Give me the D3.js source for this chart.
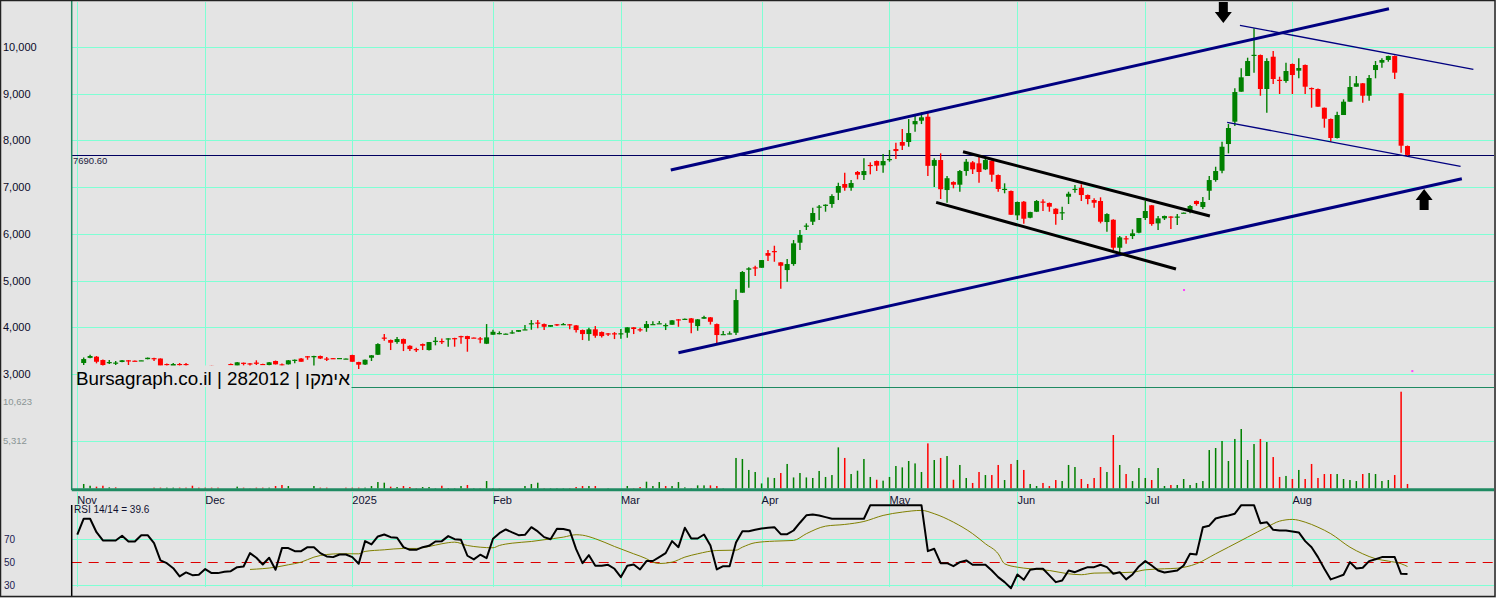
<!DOCTYPE html>
<html>
<head>
<meta charset="utf-8">
<script src="https://cdn.jsdelivr.net/npm/d3@7"></script>
<style>
  body { margin: 0; background: #e4e4e4; }
  svg { display: block; font-family: "Liberation Sans", Arial, sans-serif; }
</style>
</head>
<body>
<svg id="chart" width="1496" height="598"></svg>
<script>
// daily candles, index 0 = first bar on the chart
var open = [
 3235,3345,3370,3299,3245,3224,3257,3293,3285,3288,
 3318,3340,3331,3214,3171,3214,3214,3149,3120,3110,
 3175,3090,3075,3214,3177,3241,3228,3245,3214,3192,
 3278,3207,3207,3299,3331,3380,3358,3385,3331,3340,
 3338,3323,3406,3256,3203,3348,3412,3780,3727,3684,
 3748,3604,3534,3641,3513,3699,3706,3754,3769,3812,
 3812,3780,3763,3648,3840,3872,3860,3885,3904,3952,
 4081,4101,4069,4011,4065,4063,4065,4041,3941,3855,
 3956,3898,3870,3872,3868,3883,3999,3958,3984,4065,
 4081,4041,4054,4170,4178,4191,4026,4183,4213,4069,
 3849,3864,3883,4740,5232,5283,5274,5589,5632,5390,
 5225,5354,5810,6168,6260,6574,6617,6639,6880,7067,
 6987,7324,7259,7475,7559,7467,7595,7816,7966,7966,
 8345,8422,8508,7456,7580,6938,7109,7052,7345,7531,
 7510,7381,7565,7259,6953,6917,6396,6688,6345,6474,
 6692,6660,6538,6457,6795,6956,6987,6831,6724,6703,
 6253,6302,5703,5906,5953,6024,6339,6611,6225,6332,
 6371,6364,6450,6482,6703,6574,6923,7152,7351,7923,
 8401,9043,9379,9824,9828,9101,9792,9298,9272,9636,
 9493,9615,9122,9101,8700,8459,8052,8544,8829,9150,
 9223,8957,9507,9664,9722,9807,9009,7880
];
var high = [
 3353,3410,3385,3310,3299,3278,3299,3299,3290,3293,
 3353,3348,3335,3224,3235,3235,3235,3160,3140,3130,
 3180,3110,3150,3224,3256,3245,3235,3293,3218,3256,
 3288,3224,3299,3310,3340,3385,3391,3395,3363,3345,
 3342,3331,3410,3262,3310,3406,3656,3855,3737,3791,
 3759,3614,3562,3652,3684,3791,3759,3763,3776,3818,
 3818,3784,3791,4069,3947,3913,3866,3934,3941,4048,
 4155,4155,4080,4048,4069,4091,4069,4048,3952,3990,
 4026,3909,3877,3898,3963,3999,4005,3990,4134,4127,
 4134,4084,4155,4176,4187,4198,4176,4247,4219,4080,
 3919,3913,4812,5204,5283,5317,5439,5653,5746,5397,
 5461,5868,6082,6225,6559,6617,6632,6846,7094,7308,
 7152,7345,7617,7531,7570,7709,7795,7951,8244,8458,
 8529,8602,8602,7617,7724,7238,7125,7366,7602,7559,
 7688,7617,7574,7270,7082,6928,6692,6703,6474,6724,
 6739,6671,6549,6581,6902,7045,7061,6842,6760,6782,
 6439,6313,5953,5953,6097,6339,6703,6617,6382,6392,
 6375,6424,6457,6617,6714,6788,7238,7437,7972,8351,
 9116,9544,9771,10400,9839,9758,9914,9364,9664,9647,
 9758,9626,9133,9111,8704,8469,8615,8880,9379,9379,
 9229,9400,9700,9758,9814,9818,9015,7891
];
var low = [
 3192,3338,3228,3171,3214,3192,3252,3192,3278,3288,
 3314,3278,3171,3171,3160,3149,3149,3085,3090,3080,
 3075,3060,3070,3192,3171,3177,3171,3192,3203,3181,
 3203,3171,3203,3228,3262,3305,3134,3320,3278,3320,
 3336,3320,3262,3107,3192,3278,3406,3712,3513,3648,
 3491,3491,3470,3513,3502,3614,3641,3584,3584,3648,
 3477,3769,3656,3641,3840,3849,3855,3862,3902,3947,
 3947,3977,3941,4009,4026,4048,3956,3891,3727,3712,
 3776,3784,3812,3748,3754,3776,3855,3904,3904,4063,
 4079,3941,4052,4011,4176,3870,3926,4183,4058,3635,
 3844,3849,3834,4740,4846,5097,5274,5418,5403,4825,
 4975,5317,5653,6082,6189,6296,6474,6560,6724,6923,
 6923,7167,7152,7274,7345,7308,7544,7602,7795,7865,
 8186,8351,7238,7002,6746,6666,6975,6902,7244,7281,
 7094,7366,7116,6902,6868,6403,6296,6217,6332,6467,
 6489,6474,6195,6296,6639,6880,6703,6632,6560,6225,
 6046,5654,5583,5788,5889,6011,6296,6174,6082,6296,
 6103,6189,6446,6440,6603,6532,6724,7116,7296,7724,
 8308,9043,9379,9450,8957,8593,9208,8994,9236,8994,
 9330,8994,8700,8722,8272,7972,8041,8544,8829,9150,
 8807,8850,9330,9557,9685,9315,7737,7651
];
var close = [
 3320,3385,3262,3192,3256,3245,3293,3282,3278,3293,
 3348,3331,3177,3203,3214,3203,3200,3120,3100,3090,
 3080,3070,3140,3207,3250,3235,3220,3218,3207,3250,
 3207,3201,3293,3305,3262,3374,3385,3331,3320,3334,
 3342,3331,3262,3199,3305,3400,3641,3770,3669,3748,
 3648,3534,3523,3605,3684,3712,3695,3763,3763,3806,
 3748,3774,3757,3784,3904,3877,3864,3892,3941,3956,
 4087,4093,4011,4048,4058,4069,4058,3941,3855,3956,
 3819,3812,3864,3864,3872,3999,3963,3952,4069,4069,
 4087,4048,4149,4161,4182,4097,4170,4219,4118,3834,
 3855,3870,4583,5183,5262,5274,5439,5532,5626,5317,
 5354,5797,5975,6178,6446,6585,6624,6810,7024,6987,
 7088,7266,7345,7465,7460,7559,7602,7773,7887,8158,
 8415,8495,7456,7580,6955,7191,7052,7345,7544,7381,
 7324,7580,7266,6960,6964,6409,6682,6324,6467,6703,
 6685,6581,6424,6463,6859,6964,6831,6746,6666,6260,
 6424,5703,5925,5898,6011,6339,6489,6210,6332,6382,
 6364,6371,6454,6596,6639,6682,7152,7345,7865,8266,
 9036,9351,9700,9833,9101,9700,9315,9289,9486,9400,
 9550,9150,9111,8722,8465,8052,8544,8829,9143,9223,
 8957,9336,9614,9722,9807,9450,7887,7690.6
];
var volume = [
 620,430,330,430,250,250,0,0,0,0,
 0,220,220,220,220,220,220,430,220,220,
 220,220,0,0,330,220,160,220,220,220,
 400,510,400,0,0,0,400,220,220,0,
 0,220,220,220,220,400,830,760,330,290,
 400,290,180,290,290,180,430,180,180,400,
 510,180,180,940,180,180,0,0,0,400,
 620,760,180,180,180,180,180,290,400,400,
 400,0,180,0,0,400,180,290,870,400,
 830,400,400,830,250,180,470,470,470,400,
 180,0,3440,3330,2140,1920,680,1330,1270,1810,
 2790,1330,1810,1330,1270,2030,1380,1590,4590,3440,
 1700,2060,3330,1380,1080,980,1380,2570,2420,3110,
 2850,1920,5020,3220,3440,3650,1080,2680,1270,730,
 1920,1590,1590,2680,1050,2790,3220,2140,620,400,
 730,400,1050,940,2680,2460,1160,620,1270,2460,
 1920,5930,2680,1700,940,2350,1270,1050,2350,400,
 510,510,1160,510,730,940,4300,4520,5280,3110,
 5500,6580,3220,4950,5500,5170,3540,1380,1490,1160,
 2140,1160,2790,1270,1700,1700,1700,1160,1050,940,
 1700,1810,1700,940,1050,1590,10623,620
];

// RSI 14, first value sits one bar before the first candle
var rsiFirst = -1;
var rsi = [
 74.2,88,88,76.2,69,69,69,73.1,68.1,68.1,
 73.6,73.6,66.6,51.5,49.1,44.7,37.5,41,38.6,38.9,
 43.9,40.4,40.4,41.6,42.1,45.6,46.2,57.9,53.8,48,
 53.8,43.3,62.3,62.3,59.6,59.6,63.1,63.1,57.9,55,
 54.4,56.7,56.7,54.4,48.6,68.4,65.5,72.5,74.2,71.9,
 71.4,63.1,60.8,60.8,63.1,64.3,68.1,68.4,72.8,70.1,
 69.6,55.6,52.4,56.5,53.5,70.5,75.4,78.6,76,73.6,
 73.9,80.6,76.9,71.9,70.1,79.2,79,77.7,61.4,49.1,
 56.1,46.8,46.8,47.7,44.2,36.9,46.8,48,43.6,50.9,
 51,54.4,57.9,68.4,63.1,80.1,70.7,70.7,74.2,64.6,
 43.6,46.5,46.5,67.2,77.1,77.1,78.3,79.5,80.1,80.6,
 74.5,74.5,77.7,84.5,91,91.7,90.9,89.4,88,88,
 88,88,88,88,99.9,99.9,99.9,99.9,99.9,99.9,
 99.9,99.9,99.9,59.6,61.7,49.1,49.1,46.5,50,51.5,
 47.7,47.7,47.7,42.7,36.9,32.5,27.2,39.2,34.6,43.3,
 44.2,44.2,38.4,32.5,34,42.7,41.2,43.6,45.6,45.6,
 47.7,45.6,39.8,41.2,34.9,39.2,46.2,50.9,47.1,42.7,
 41,41.9,42.7,47.1,57.3,56.7,80.6,81.9,88.2,89.7,
 90.9,92.4,99.9,99.9,99.9,84.1,85,78.3,77.7,77.7,
 76.9,76,68.4,63.1,54.4,44.2,34.9,36.9,39,50,
 44.5,45.1,50.9,52.6,54.4,54.4,54.4,39.8,39.6
];
// RSI signal (olive), read at these bars
var sigIdx = [26,30,32,34,36,38,40,43,44,47,50,52,54,56,58,60,62,64,65,67,70,72,75,77,78,80,83,86,88,89,90,92,94,96,99,102,103,105,108,111,113,116,119,122,125,128,131,133,136,139,141,143,144,146,148,151,154,156,158,161,164,166,169,171,174,177,179,182,185,187,189,191,193,195,198,200,202,204,206,207];
var sigVal = [43.6,45.6,47.7,50,54.4,56.7,57.3,57.3,59.4,60.8,62,62,63.7,66.1,67.5,64.6,63.1,62.6,64.6,66.6,68.1,69.6,71.9,74,73.6,70.5,63.7,57.3,53,50,48.8,50,54.4,57.3,60.2,60.5,63.1,67,68.4,69,74.9,81.5,83,85.6,90.9,93.8,95.3,92.4,85,74.9,66.1,57.3,48.6,45.6,44.2,42.7,39.8,39,40.4,40.7,41.2,43.3,44.2,44.7,48.6,57.3,63.1,71.9,80.6,85.9,87.4,85,80.6,74.9,63.1,57.3,53,50.9,48.6,46.2];

var monthLabels = ['Nov','Dec','2025','Feb','Mar','Apr','May','Jun','Jul','Aug'];
var monthIdx = [-1,19,42,64,84,106,126,146,166,189];
var priceTicks = [3000,4000,5000,6000,7000,8000,9000,10000];
var volTicks = [10623,5312];
var rsiTicks = [70,50,30];
var lastClose = 7690.60;

// drawn lines: [bar, price] pairs
var trendStart = [[91.8,7366],[93,3455],[180.8,10464],[178.8,8388],[137.5,7758],[133.3,6675]];
var trendEnd   = [[204.1,10820],[215.5,7180],[217.3,9522],[215.3,7446],[176.1,6381],[170.8,5247]];
var arrowDown = [178.2,10514];
var arrowUp = [209.6,6960];
var pinkMarks = [[171.9,4819],[207.6,3084]];

var svg = d3.select('#chart');
var W = 1496, H = 598;
var left = 71.7, right = 1494;
var grid = '#7fffd4', frame = '#1f8a62';
var px = v => Math.round(v) + 0.5;   // keep 1px lines sharp

var x = d3.scaleLinear().domain([0, 207]).range([83.7, 1407.5]);
var y = d3.scaleLinear().domain([3000, 10000]).range([374, 47]);
var yv = d3.scaleLinear().domain([0, 10623]).range([489.7, 391.7]);
var yr = d3.scaleLinear().domain([30, 70]).range([585, 539.3]);

svg.append('rect').attr('width', W).attr('height', H).attr('fill', '#e4e4e4');

// grid
var g = svg.append('g');
g.selectAll('.hp').data(priceTicks).enter().append('line')
  .attr('x1', left).attr('x2', right).attr('y1', d => px(y(d))).attr('y2', d => px(y(d)))
  .attr('stroke', grid).attr('stroke-width', 1);
g.append('line').attr('x1', left).attr('x2', right).attr('y1', px(yv(5312))).attr('y2', px(yv(5312)))
  .attr('stroke', grid);
g.selectAll('.vm').data(monthIdx).enter().append('line')
  .attr('x1', d => px(x(d))).attr('x2', d => px(x(d))).attr('y1', 2).attr('y2', 489)
  .attr('stroke', grid);
g.selectAll('.vr').data(monthIdx).enter().append('line')
  .attr('x1', d => px(x(d))).attr('x2', d => px(x(d))).attr('y1', 492).attr('y2', 587)
  .attr('stroke', grid);
[70, 30].forEach(function(v) {
  g.append('line').attr('x1', left).attr('x2', right).attr('y1', px(yr(v))).attr('y2', px(yr(v)))
    .attr('stroke', grid);
});
g.append('line').attr('x1', left).attr('x2', right).attr('y1', px(yr(50))).attr('y2', px(yr(50)))
  .attr('stroke', '#dd0000').attr('stroke-dasharray', '10,7');

// last close line
svg.append('line').attr('x1', left).attr('x2', right)
  .attr('y1', px(y(lastClose))).attr('y2', px(y(lastClose)))
  .attr('stroke', '#000060').attr('stroke-width', 1);
svg.append('text').attr('x', 73).attr('y', y(lastClose) + 9.5)
  .attr('font-size', 9.5).attr('fill', '#202040').text(d3.format('.2f')(lastClose));

// candles
var idx = d3.range(open.length);
var up = i => close[i] >= open[i];
var cg = svg.append('g');
cg.selectAll('.wick').data(idx).enter().append('line')
  .attr('x1', i => x(i)).attr('x2', i => x(i))
  .attr('y1', i => y(high[i])).attr('y2', i => y(low[i]))
  .attr('stroke', i => up(i) ? '#008000' : '#ff0000').attr('stroke-width', 1.4);
cg.selectAll('.body').data(idx).enter().append('rect')
  .attr('x', i => x(i) - 2.5).attr('width', 5)
  .attr('y', i => y(Math.max(open[i], close[i])))
  .attr('height', i => Math.max(1.2, Math.abs(y(open[i]) - y(close[i]))))
  .attr('fill', i => up(i) ? '#008000' : '#ff0000');

// volume, coloured by change from the previous close
svg.append('g').selectAll('rect').data(idx.filter(i => volume[i] > 0)).enter().append('rect')
  .attr('x', i => x(i) - 0.75).attr('width', 1.5)
  .attr('y', i => yv(volume[i])).attr('height', i => 488.5 - yv(volume[i]))
  .attr('fill', i => (i === 0 || close[i] >= close[i - 1]) ? '#008000' : '#ff0000');

// RSI
var rsiLine = d3.line().x(d => x(d[0])).y(d => yr(d[1]));
svg.append('path').datum(sigIdx.map((d, k) => [d, sigVal[k]]))
  .attr('d', d3.line().curve(d3.curveMonotoneX).x(d => x(d[0])).y(d => yr(d[1])))
  .attr('fill', 'none').attr('stroke', '#808000').attr('stroke-width', 1);
svg.append('path').datum(rsi.map((v, k) => [k + rsiFirst, v]))
  .attr('d', rsiLine).attr('fill', 'none').attr('stroke', '#000').attr('stroke-width', 2)
  .attr('stroke-linejoin', 'round');

// drawings
var tw = [3, 3, 1.3, 1.3, 3, 3];
var tc = ['#000080', '#000080', '#000080', '#000080', '#000', '#000'];
svg.append('g').selectAll('line').data(trendStart).enter().append('line')
  .attr('x1', d => x(d[0])).attr('y1', d => y(d[1]))
  .attr('x2', (d, k) => x(trendEnd[k][0])).attr('y2', (d, k) => y(trendEnd[k][1]))
  .attr('stroke', (d, k) => tc[k]).attr('stroke-width', (d, k) => tw[k]);

var ax = x(arrowDown[0]), ay = y(arrowDown[1]);
svg.append('path').attr('fill', '#000')
  .attr('d', 'M' + (ax - 4.5) + ',' + (ay - 21) + 'h9v10h4l-8.5,11l-8.5,-11h4z');
var bx = x(arrowUp[0]), by = y(arrowUp[1]);
svg.append('path').attr('fill', '#000')
  .attr('d', 'M' + bx + ',' + by + 'l8.5,11h-4v10h-9v-10h-4z');
svg.selectAll('.pink').data(pinkMarks).enter().append('rect')
  .attr('x', d => x(d[0])).attr('y', d => y(d[1])).attr('width', 2).attr('height', 2)
  .attr('fill', '#ff40ff');

// title box
svg.append('rect').attr('x', 78).attr('y', 365.5).attr('width', 273.5).attr('height', 21.5)
  .attr('fill', '#e4e4e4');
svg.append('text').attr('x', 76).attr('y', 385).attr('font-size', 18.8).attr('fill', '#000')
  .text('Bursagraph.co.il | 282012 | אימקו');

// frame
svg.append('line').attr('x1', left).attr('x2', left).attr('y1', 0).attr('y2', 490)
  .attr('stroke', frame).attr('stroke-width', 1.5);
svg.append('line').attr('x1', 351.5).attr('x2', right).attr('y1', 387.5).attr('y2', 387.5)
  .attr('stroke', frame).attr('stroke-width', 1);
svg.append('line').attr('x1', left).attr('x2', right).attr('y1', 489.7).attr('y2', 489.7)
  .attr('stroke', frame).attr('stroke-width', 3);
svg.append('line').attr('x1', left).attr('x2', left).attr('y1', 505).attr('y2', 596)
  .attr('stroke', '#000').attr('stroke-width', 1.5);
svg.append('rect').attr('x', 0.5).attr('y', 0.5).attr('width', 1494.5).attr('height', 596)
  .attr('fill', 'none').attr('stroke', '#222').attr('stroke-width', 1.5);

// axis labels
function styleAxis(sel, color, size) {
  sel.select('.domain').remove();
  sel.selectAll('text').attr('fill', color).attr('font-size', size)
    .attr('font-family', '"Liberation Sans", Arial, sans-serif');
}
svg.append('g').call(d3.axisRight(y).tickValues(priceTicks).tickSize(0).tickPadding(3)
  .tickFormat(d3.format(','))).call(styleAxis, '#0a0a28', 11);
svg.append('g').call(d3.axisRight(yv).tickValues(volTicks).tickSize(0).tickPadding(3)
  .tickFormat(d3.format(','))).call(styleAxis, '#8a9494', 9.5)
  .selectAll('text').attr('dy', d => d === 10623 ? '1.3em' : '0.32em');
svg.append('g').call(d3.axisRight(yr).tickValues(rsiTicks).tickSize(0).tickPadding(4))
  .call(styleAxis, '#202050', 10);

svg.selectAll('.mon').data(monthIdx).enter().append('text')
  .attr('x', d => x(d)).attr('y', 504).attr('font-size', 11).attr('fill', '#101030')
  .text((d, k) => monthLabels[k]);
svg.append('text').attr('x', 74).attr('y', 513).attr('font-size', 10).attr('fill', '#101030')
  .text('RSI 14/14 = ' + rsi[rsi.length - 1]);
</script>
</body>
</html>
